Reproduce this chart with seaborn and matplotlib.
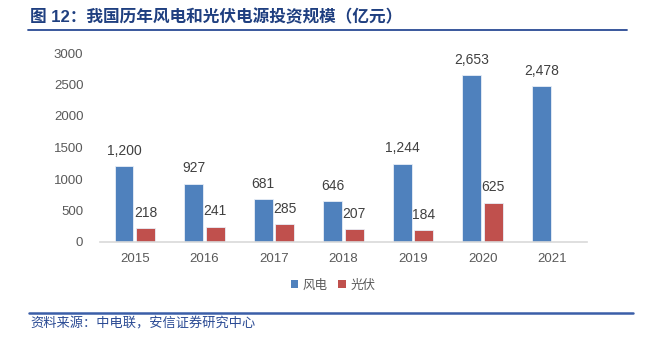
import matplotlib
matplotlib.use("Agg")
import matplotlib.pyplot as plt
import seaborn as sns
import pandas as pd
import numpy as np
from matplotlib.patches import Patch
from matplotlib.lines import Line2D

# Investment in power sources (100 million yuan)
years = ["2015", "2016", "2017", "2018", "2019", "2020", "2021"]
wind = [1200, 927, 681, 646, 1244, 2653, 2478]
solar = [218, 241, 285, 207, 184, 625, np.nan]
series_names = ["风电", "光伏"]
colors = ["#4F81BD", "#C0504D"]
yticks = [0, 500, 1000, 1500, 2000, 2500, 3000]

title = "图 12：我国历年风电和光伏电源投资规模（亿元）"
source = "资料来源：中电联，安信证券研究中心"

sns.set_theme(style="white")
plt.rcParams["font.family"] = ["Liberation Sans", "Noto Sans CJK SC", "DejaVu Sans"]

df = pd.DataFrame({
    "year": years * 2,
    "value": wind + solar,
    "series": [series_names[0]] * len(years) + [series_names[1]] * len(years),
})

fig = plt.figure(figsize=(6.57, 3.37), dpi=100)
ax = fig.add_axes([100 / 657, 1 - 242 / 337, 487 / 657, 189 / 337])

sns.barplot(data=df, x="year", y="value", hue="series", palette=colors,
            saturation=1, width=0.62, gap=0.12, dodge=True, ax=ax, legend=False,
            edgecolor="#E8EEF7", linewidth=0.6, errorbar=None)

ax.set_xlim(-0.5, len(years) - 0.5)
ax.set_ylim(0, 3000)
ax.set_yticks(yticks)
ax.set_yticklabels([str(t) for t in yticks])
ax.set_xlabel("")
ax.set_ylabel("")
for s in ["top", "right", "left"]:
    ax.spines[s].set_visible(False)
ax.spines["bottom"].set_color("#D9D9D9")
ax.spines["bottom"].set_linewidth(1.2)
ax.tick_params(axis="both", length=0, labelsize=9.5, colors="#595959")
ax.tick_params(axis="y", pad=12)
ax.tick_params(axis="x", pad=8)

# value labels above each bar
for container in ax.containers:
    for bar in container:
        h = bar.get_height()
        if np.isnan(h) or h == 0:
            continue
        ax.annotate(f"{int(round(h)):,}", (bar.get_x() + bar.get_width() / 2, h),
                    xytext=(0, 6), textcoords="offset points",
                    ha="center", va="bottom", fontsize=10, color="#404040")

# legend
handles = [Patch(facecolor=c, edgecolor="none") for c in colors]
fig.legend(handles, series_names, loc="center", bbox_to_anchor=(333 / 657, 1 - 285 / 337),
           ncol=2, frameon=False, handlelength=0.6, handleheight=0.6,
           handletextpad=0.4, columnspacing=0.8,
           prop={"family": ["Noto Sans CJK SC"], "size": 9}, labelcolor="#595959")

# header and footer
fig.text(30 / 657, 1 - 17 / 337, title, ha="left", va="center", fontsize=12,
         fontweight="bold", color="#1F3F80",
         family=["Liberation Sans", "Noto Sans CJK SC"])
fig.add_artist(Line2D([28 / 657, 627 / 657], [1 - 29.5 / 337] * 2,
                      transform=fig.transFigure, color="#2A4A94", linewidth=1.3))
fig.add_artist(Line2D([29 / 657, 633 / 657], [1 - 313 / 337] * 2,
                      transform=fig.transFigure, color="#3B5EA8", linewidth=1.8))
fig.text(30 / 657, 1 - 324 / 337, source, ha="left", va="center", fontsize=9.5,
         style="italic", color="#2A4A94", family=["Noto Sans CJK SC"])

fig.savefig("out.png", dpi=100)
